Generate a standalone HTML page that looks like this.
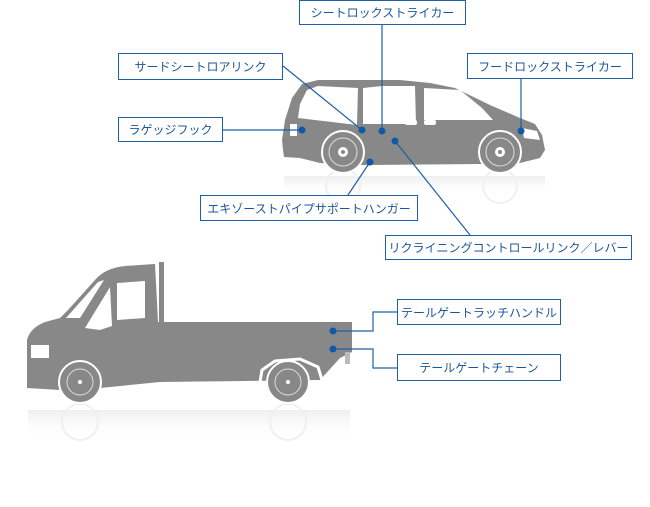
<!DOCTYPE html>
<html><head><meta charset="utf-8"><style>
html,body{margin:0;padding:0;background:#fff;width:650px;height:507px;overflow:hidden;position:relative}
.b{position:absolute;box-sizing:border-box;border:1px solid #1f5fa5;background:#fff;color:#1c5698;font:normal 12px "Liberation Sans","Noto Sans CJK JP",sans-serif;display:flex;align-items:center;justify-content:center;white-space:nowrap}
svg{position:absolute;left:0;top:0}
</style></head><body>
<svg width="650" height="507" viewBox="0 0 650 507">
<defs>
<linearGradient id="rf" x1="0" y1="0" x2="0" y2="1"><stop offset="0" stop-color="#ddd" stop-opacity="0.5"/><stop offset="1" stop-color="#fff" stop-opacity="0"/></linearGradient>
</defs>
<!-- van reflection -->
<path d="M284 176 L545 176 L545 196 L284 196 Z" fill="url(#rf)"/>
<circle cx="343" cy="186" r="17" fill="none" stroke="#f0f0f0" stroke-width="2"/>
<circle cx="500" cy="186" r="17" fill="none" stroke="#f0f0f0" stroke-width="2"/>
<!-- van -->
<path d="M283 150 L282 140 L285 120 L292 98 L302 84 L318 80 L400 80 L430 83 L455 88 L490 105 L520 118 L535 124 L542 135 L545 150 L540 158 L520 163 L480 164 L360 165 L320 163 L300 158 L284 157 Z" fill="#888"/>
<path d="M298 118 L300 104 L307 90 L318 86 L358 88 L357 125 Z" fill="#fff"/>
<path d="M363 88 L382 86 L415 86 L416 124 L363 124 Z" fill="#fff"/>
<path d="M424 88 L460 90 L482 108 L493 120 L424 120 Z" fill="#fff"/>
<path d="M290 124 L297 124 L297 136 L290 136 Z" fill="#fff"/>
<rect x="405" y="120" width="12" height="5" rx="2" fill="#fff"/>
<rect x="424" y="120" width="12" height="5" rx="2" fill="#fff"/>
<path d="M522 128 L537 131 L540 140 L524 138 Z" fill="#fff"/>
<circle cx="343" cy="152" r="21" fill="#888" stroke="#fff" stroke-width="2"/>
<circle cx="343" cy="152" r="14" fill="none" stroke="#ddd" stroke-width="1"/>
<circle cx="343" cy="152" r="5" fill="#fff"/><circle cx="343" cy="152" r="2" fill="#888"/>
<circle cx="500" cy="152" r="21" fill="#888" stroke="#fff" stroke-width="2"/>
<circle cx="500" cy="152" r="14" fill="none" stroke="#ddd" stroke-width="1"/>
<circle cx="500" cy="152" r="5" fill="#fff"/><circle cx="500" cy="152" r="2" fill="#888"/>
<!-- truck reflection -->
<path d="M28 410 L350 410 L350 440 L28 440 Z" fill="url(#rf)"/>
<circle cx="80" cy="422" r="18" fill="none" stroke="#f0f0f0" stroke-width="2"/>
<circle cx="288" cy="422" r="18" fill="none" stroke="#f0f0f0" stroke-width="2"/>
<!-- truck -->
<path d="M27 388 L27 340 Q30 328 45 322 L60 318 L68 310 L95 280 Q105 268 125 266 L155 264 L158 322 L352 322 L352 352 L340 358 L320 380 L160 382 L100 388 L60 390 Z" fill="#888"/>
<rect x="159" y="262" width="5" height="60" fill="#888"/>
<path d="M66 318 L98 282 L104 280 L80 318 Z" fill="#fff"/>
<path d="M85 328 L110 287 L112 326 L100 330 Z" fill="#fff"/>
<path d="M117 283 L145 281 L145 318 L117 320 Z" fill="#fff"/>
<rect x="31" y="345" width="18" height="13" fill="#fff"/>
<rect x="345" y="352" width="5" height="12" fill="#bbb"/>
<path d="M260 382 L262 370 L275 361 L300 359 L318 367 L322 380" fill="none" stroke="#fff" stroke-width="3"/>
<circle cx="80" cy="382" r="21" fill="#888" stroke="#fff" stroke-width="2"/>
<circle cx="80" cy="382" r="13" fill="none" stroke="#ddd"/>
<circle cx="80" cy="382" r="2" fill="#fff"/>
<circle cx="288" cy="382" r="21" fill="#888" stroke="#fff" stroke-width="2"/>
<circle cx="288" cy="382" r="13" fill="none" stroke="#ddd"/>
<circle cx="288" cy="382" r="2" fill="#fff"/>
<!-- connectors -->
<g stroke="#1f5fa5" stroke-width="1.2" fill="none">
<line x1="223" y1="130" x2="302" y2="130"/>
<line x1="283" y1="66" x2="362" y2="130"/>
<line x1="382" y1="25" x2="382" y2="131"/>
<line x1="521" y1="79" x2="521" y2="131"/>
<line x1="348" y1="195" x2="370" y2="162"/>
<line x1="395" y1="141" x2="470" y2="235"/>
<polyline points="333,331 373,331 373,312 397,312"/>
<polyline points="333,349 373,349 373,368 397,368"/>
</g>
<g fill="#1158a8">
<circle cx="302" cy="130" r="3.5"/><circle cx="362" cy="130" r="3.5"/><circle cx="382" cy="131" r="3.5"/>
<circle cx="521" cy="131" r="3.5"/><circle cx="370" cy="162" r="3.5"/><circle cx="395" cy="141" r="3.5"/>
<circle cx="333" cy="331" r="3.5"/><circle cx="333" cy="349" r="3.5"/>
</g>
</svg>
<div class="b" style="left:299px;top:0;width:167px;height:25px">シートロックストライカー</div>
<div class="b" style="left:118px;top:53px;width:165px;height:27px">サードシートロアリンク</div>
<div class="b" style="left:467px;top:53px;width:166px;height:26px">フードロックストライカー</div>
<div class="b" style="left:118px;top:117px;width:105px;height:25px">ラゲッジフック</div>
<div class="b" style="left:200px;top:195px;width:218px;height:26px">エキゾーストパイプサポートハンガー</div>
<div class="b" style="left:385px;top:235px;width:247px;height:25px">リクライニングコントロールリンク／レバー</div>
<div class="b" style="left:397px;top:299px;width:164px;height:26px">テールゲートラッチハンドル</div>
<div class="b" style="left:397px;top:354px;width:164px;height:27px">テールゲートチェーン</div>
</body></html>
